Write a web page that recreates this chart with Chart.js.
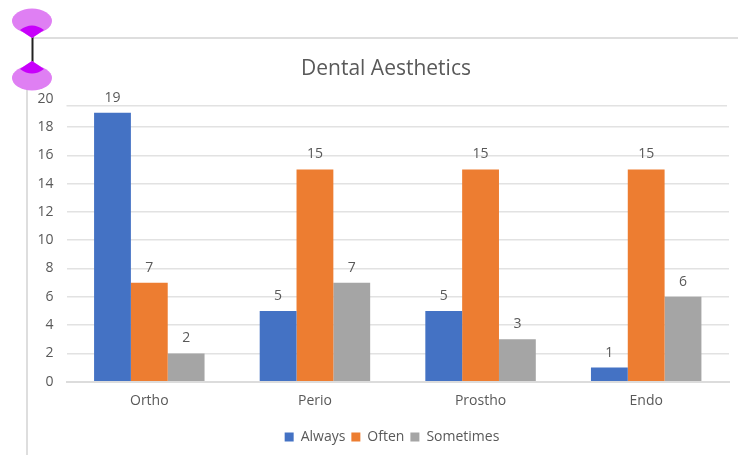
<!DOCTYPE html>
<html>
<head>
<meta charset="utf-8">
<title>Dental Aesthetics</title>
<script src="https://cdn.jsdelivr.net/npm/chart.js@4"></script>
<style>
  html, body { margin: 0; padding: 0; background: #fff; }
  #wrap { position: relative; width: 738px; height: 455px; overflow: hidden; }
</style>
</head>
<body>
<div id="wrap"><canvas id="chart" width="738" height="455"></canvas></div>
<script>
const categories = ['Ortho', 'Perio', 'Prostho', 'Endo'];
const always = [19, 5, 5, 1];
const often = [7, 15, 15, 15];
const sometimes = [2, 7, 3, 6];
const tickStep = 2;
const axisMax = 20;

const textColor = '#595959';
const gridColor = '#e2e2e2';
const fontFamily = '"Open Sans", "Noto Sans", sans-serif';

function drawHandle(ctx, x, y, dir) {
  // light teardrop body, pointing at the connector
  ctx.fillStyle = '#df7ff3';
  ctx.beginPath();
  ctx.ellipse(x, y, 20, 12.5, 0, 0, Math.PI * 2);
  ctx.fill();
  ctx.beginPath();
  ctx.moveTo(x, y + dir * 17);
  ctx.lineTo(x - 14, y + dir * 8);
  ctx.lineTo(x + 14, y + dir * 8);
  ctx.closePath();
  ctx.fill();
  // darker wedge where the handle meets the connector
  ctx.fillStyle = '#c800fb';
  ctx.beginPath();
  ctx.moveTo(x, y + dir * 17);
  ctx.lineTo(x - 12, y + dir * 9);
  ctx.quadraticCurveTo(x, y + dir * 0, x + 12, y + dir * 9);
  ctx.closePath();
  ctx.fill();
}

// Selection frame and purple handles around the chart
const frame = {
  id: 'frame',
  beforeDraw(chart) {
    const ctx = chart.ctx;
    ctx.save();
    ctx.strokeStyle = '#dedede';
    ctx.lineWidth = 2;
    ctx.beginPath();
    ctx.moveTo(32, 38);
    ctx.lineTo(738, 38);
    ctx.moveTo(27, 78);
    ctx.lineTo(27, 455);
    ctx.stroke();
    ctx.restore();
  },
  afterDraw(chart) {
    const ctx = chart.ctx;
    ctx.save();
    ctx.strokeStyle = '#222';
    ctx.lineWidth = 2;
    ctx.beginPath();
    ctx.moveTo(32.5, 36);
    ctx.lineTo(32.5, 63);
    ctx.stroke();
    drawHandle(ctx, 32, 21, 1);
    drawHandle(ctx, 32, 78, -1);
    ctx.restore();
  }
};

// Title and legend sit left of the plot centre, top rule sits below the 20 tick
const placement = {
  id: 'placement',
  afterLayout(chart) {
    chart.titleBlock.left = 43;
    chart.titleBlock.right = 729;
    chart.legend.left = 55;
    chart.legend.right = 729;
  },
  beforeDatasetsDraw(chart) {
    const ctx = chart.ctx;
    ctx.save();
    ctx.strokeStyle = gridColor;
    ctx.lineWidth = 1.5;
    ctx.beginPath();
    ctx.moveTo(chart.chartArea.left, 105.7);
    ctx.lineTo(chart.chartArea.right - 2, 105.7);
    ctx.stroke();
    ctx.restore();
  }
};

// Value labels above each bar
const barValues = {
  id: 'barValues',
  afterDatasetsDraw(chart) {
    const ctx = chart.ctx;
    ctx.save();
    ctx.fillStyle = textColor;
    ctx.font = '14px ' + fontFamily;
    ctx.textAlign = 'center';
    ctx.textBaseline = 'middle';
    chart.data.datasets.forEach((ds, i) => {
      chart.getDatasetMeta(i).data.forEach((bar, j) => {
        ctx.fillText(ds.data[j], bar.x, bar.y - 15);
      });
    });
    ctx.restore();
  }
};

new Chart(document.getElementById('chart'), {
  type: 'bar',
  data: {
    labels: categories,
    datasets: [
      { label: 'Always', data: always, backgroundColor: '#4472c4' },
      { label: 'Often', data: often, backgroundColor: '#ed7d31' },
      { label: 'Sometimes', data: sometimes, backgroundColor: '#a5a5a5' }
    ]
  },
  options: {
    responsive: false,
    animation: false,
    layout: { padding: { left: 0, right: 9, top: 0, bottom: 1 } },
    datasets: { bar: { categoryPercentage: 0.667, barPercentage: 1 } },
    plugins: {
      title: {
        display: true,
        text: 'Dental Aesthetics',
        color: textColor,
        font: { family: fontFamily, size: 21, weight: 'normal' },
        padding: { top: 56.4, bottom: 17.1 }
      },
      legend: {
        position: 'bottom',
        labels: {
          color: textColor,
          font: { family: fontFamily, size: 14 },
          boxWidth: 9,
          boxHeight: 9,
          padding: 6
        }
      },
      tooltip: { enabled: false }
    },
    scales: {
      x: {
        afterFit(scale) { scale.height = 42.3; },
        grid: { display: false, drawTicks: false },
        border: { color: '#dcdcdc', width: 2 },
        ticks: { color: textColor, font: { family: fontFamily, size: 14 }, padding: 11 }
      },
      y: {
        min: 0,
        max: axisMax,
        afterFit(scale) { scale.width = 66.5; },
        grid: {
          color: ctx => (ctx.tick && ctx.tick.value === axisMax ? 'transparent' : gridColor),
          lineWidth: 1.5,
          drawTicks: false
        },
        border: { display: false },
        ticks: {
          stepSize: tickStep,
          color: textColor,
          font: { family: fontFamily, size: 14 },
          padding: 13
        }
      }
    }
  },
  plugins: [frame, placement, barValues]
});
</script>
</body>
</html>
